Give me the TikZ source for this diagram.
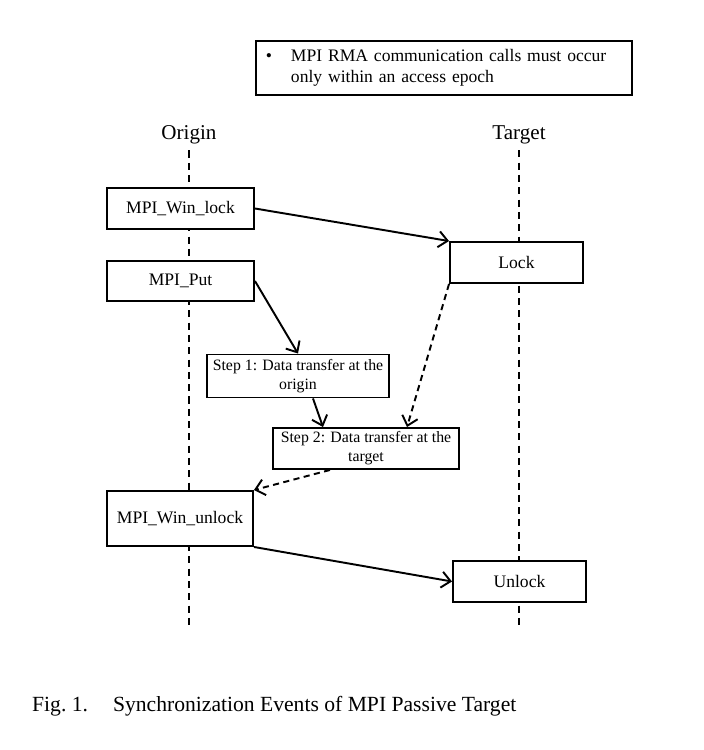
\documentclass[tikz,border=0pt]{standalone}
\usepackage{fontspec}
\setmainfont{Liberation Serif}
\usetikzlibrary{arrows.meta}
\begin{document}
\begin{tikzpicture}[box/.style={draw,line width=1.1pt,fill=white,align=center,inner sep=1pt},
  life/.style={line width=0.9pt,dash pattern=on 4pt off 3pt},
  msg/.style={line width=1.1pt,-{Straight Barb[length=1.8mm,width=3.2mm]}},
  dashline/.style={dash pattern=on 3.5pt off 2.5pt},
  small/.style={font=\fontsize{9}{10.8}\selectfont}]
\useasboundingbox (0,0) rectangle (14.08,-15);
\node[draw,line width=1.1pt,anchor=north west,minimum width=7.52cm,minimum height=1.04cm,text width=7.12cm,inner xsep=0.2cm,align=left] (note) at (5.10,-0.80) {\begin{tabular}{@{}p{0.5cm}@{}l@{}}\textbullet & MPI RMA communication calls must occur\\ & only within an access epoch\end{tabular}};
\node[font=\fontsize{12}{14}\selectfont] (origin) at (3.78,-2.70) {Origin};
\node[font=\fontsize{12}{14}\selectfont] (target) at (10.38,-2.70) {Target};
\coordinate (oend) at (3.78,-12.5);
\coordinate (tend) at (10.38,-12.5);
\draw[life] (origin.south) -- (oend);
\draw[life] (target.south) -- (tend);
%origin side
\node[box,minimum width=2.94cm,minimum height=0.82cm] (winlock) at (3.61,-4.17) {MPI\_Win\_lock};
\node[box,minimum width=2.94cm,minimum height=0.80cm] (put) at (3.61,-5.62) {MPI\_Put};
\node[box,minimum width=2.92cm,minimum height=1.10cm] (winunlock) at (3.60,-10.37) {MPI\_Win\_unlock};
%target side
\node[box,minimum width=2.66cm,minimum height=0.82cm] (lock) at (10.33,-5.25) {Lock};
\node[box,minimum width=2.66cm,minimum height=0.82cm] (unlock) at (10.39,-11.63) {Unlock};
%transfer steps
\node[box,small,minimum width=3.64cm,minimum height=0.86cm] (step1) at (5.96,-7.52) {Step 1: Data transfer at the\\origin};
\node[box,small,minimum width=3.72cm,minimum height=0.82cm] (step2) at (7.32,-8.97) {Step 2: Data transfer at the\\target};
\draw[msg] (winlock.east) -- (lock.north west);
\draw[msg] (put.east) -- (step1.north);
\draw[msg] ([xshift=0.3cm]step1.south) -- ([xshift=-0.86cm]step2.north);
\draw[msg,dashline] (lock.south west) -- ([xshift=0.82cm]step2.north);
\draw[msg,dashline] ([xshift=-0.72cm]step2.south) -- (winunlock.north east);
\draw[msg] (winunlock.south east) -- (unlock.west);
\node[anchor=base west,font=\fontsize{12.3}{14}\selectfont] (caption) at (0.52,-14.22) {Fig.~1.\hspace{0.5cm}Synchronization Events of MPI Passive Target};
\end{tikzpicture}
\end{document}
